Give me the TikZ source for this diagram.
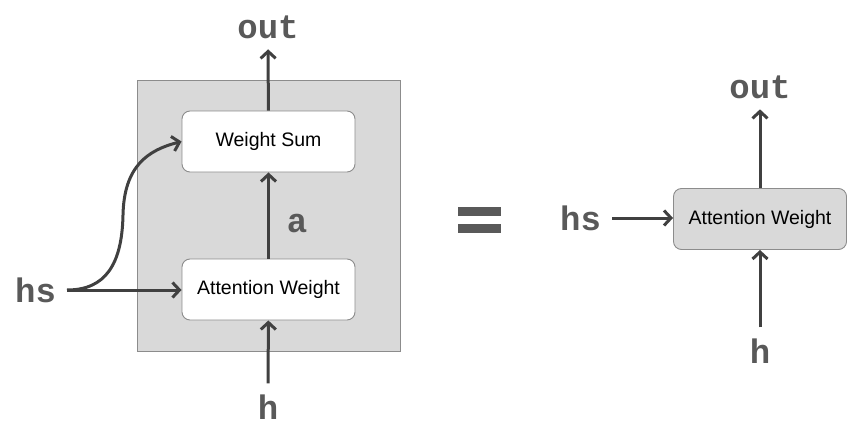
\documentclass[tikz,border=0pt]{standalone}
\usepackage{fontspec}
\setmainfont{Liberation Sans}
\setmonofont{Liberation Mono}
\usetikzlibrary{arrows.meta}
\definecolor{boxgray}{HTML}{D9D9D9}
\definecolor{edgegray}{HTML}{8C8C8C}
\definecolor{labelgray}{HTML}{595959}
\definecolor{arrowgray}{HTML}{404040}
\begin{document}
\begin{tikzpicture}[x=1pt, y=-1pt,
	block/.style={draw=edgegray, line width=0.9pt, rounded corners=8pt, minimum width=173pt, minimum height=61pt, inner sep=0pt, font=\fontsize{19.5}{22}\selectfont},
	sym/.style={text=labelgray, font=\ttfamily\bfseries\fontsize{34}{36}\selectfont, inner sep=0pt, outer sep=11pt},
	flow/.style={draw=arrowgray, line width=3pt, -{Straight Barb[length=7pt,width=15pt]}}]
	\useasboundingbox (0,0) rectangle (850,428);
	\draw[draw=edgegray, fill=boxgray, line width=0.9pt] (137,80) rectangle (400,351);
	\node[block, fill=white] (ws) at (268.5,141.5){Weight Sum};
	\node[block, fill=white] (aw) at (268.5,289.5){Attention Weight};
	\node[sym, anchor=base] (out) at (268,38){out};
	\node[sym, anchor=base] (h) at (268,419){h};
	\node[sym, anchor=east] (hs) at (67,290){hs};
	\node[sym, anchor=base, outer sep=0pt] (a) at (297,232){a};
	\draw[flow] (ws) -- (out);
	\draw[flow] (aw) -- (ws);
	\draw[flow] (h) -- (aw);
	\draw[flow] (hs.east) -- (hs.east -| aw.west);
	\draw[flow] (hs.east) .. controls (105,290) and (122,265) .. (123,215) .. controls (124,166) and (148,150) .. (ws.west);
	\fill[labelgray] (458,207) rectangle (501,216);
	\fill[labelgray] (458,224) rectangle (501,233);
	\node[block, fill=boxgray] (awr) at (760,219){Attention Weight};
	\node[sym, anchor=base] (outr) at (760,98){out};
	\node[sym, anchor=base] (hr) at (760,363){h};
	\node[sym, anchor=east] (hsr) at (612,218){hs};
	\draw[flow] (awr) -- (outr);
	\draw[flow] (hr) -- (awr);
	\draw[flow] (hsr.east) -- (hsr.east -| awr.west);
\end{tikzpicture}
\end{document}
